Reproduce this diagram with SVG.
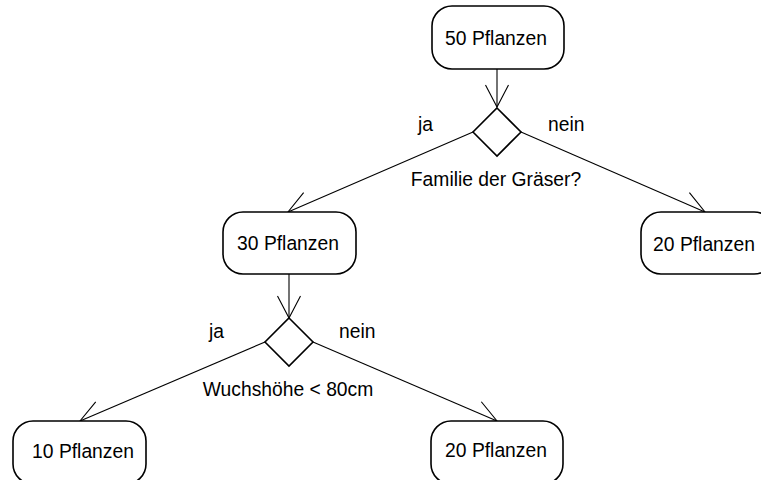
<svg xmlns="http://www.w3.org/2000/svg" width="761" height="480" viewBox="0 0 761 480">
  <style>
    .box { fill: #ffffff; stroke: #000000; stroke-width: 1.6; }
    .dec { fill: #ffffff; stroke: #000000; stroke-width: 1.6; }
    .edge { fill: none; stroke: #000000; stroke-width: 1.1; }
    text { font-family: "Liberation Sans", Arial, sans-serif; font-size: 19.3px; fill: #000000; }
    .c { text-anchor: middle; }
  </style>
  <defs>
    <marker id="open" markerUnits="userSpaceOnUse" markerWidth="30" markerHeight="30" viewBox="-25 -15 30 30" refX="0" refY="0" orient="auto">
      <path d="M-22,-11.5 L0,0 L-22,11.5" fill="none" stroke="#000000" stroke-width="1.1"/>
    </marker>
  </defs>

  <g id="connectors">
    <line class="edge" x1="497" y1="69" x2="497" y2="107" marker-end="url(#open)"/>
    <line class="edge" x1="473" y1="132" x2="288" y2="212" marker-end="url(#open)"/>
    <line class="edge" x1="521" y1="132" x2="705" y2="212" marker-end="url(#open)"/>
    <line class="edge" x1="289" y1="274" x2="289" y2="318" marker-end="url(#open)"/>
    <line class="edge" x1="265" y1="342" x2="80" y2="421" marker-end="url(#open)"/>
    <line class="edge" x1="313" y1="342" x2="497" y2="421" marker-end="url(#open)"/>
    <text x="418" y="131">ja</text>
    <text x="548" y="131">nein</text>
    <text x="209" y="338">ja</text>
    <text x="339" y="338">nein</text>
  </g>

  <g id="n50">
    <rect class="box" x="432" y="6" width="132" height="63" rx="20" ry="20"/>
    <text class="c" x="496" y="45">50 Pflanzen</text>
  </g>

  <g id="d1">
    <polygon class="dec" points="497,108 521,132 497,156 473,132"/>
    <text class="c" x="496" y="186">Familie der Gräser?</text>
  </g>

  <g id="n30">
    <rect class="box" x="223" y="212" width="133" height="62" rx="20" ry="20"/>
    <text class="c" x="288" y="250">30 Pflanzen</text>
  </g>

  <g id="n20a">
    <rect class="box" x="641" y="212" width="133" height="62" rx="20" ry="20"/>
    <text class="c" x="704" y="251">20 Pflanzen</text>
  </g>

  <g id="d2">
    <polygon class="dec" points="289,318 313,342 289,366 265,342"/>
    <text class="c" x="288" y="396">Wuchshöhe &lt; 80cm</text>
  </g>

  <g id="n10">
    <rect class="box" x="13" y="421" width="133" height="63" rx="20" ry="20"/>
    <text class="c" x="83" y="458">10 Pflanzen</text>
  </g>

  <g id="n20b">
    <rect class="box" x="431" y="421" width="132" height="63" rx="20" ry="20"/>
    <text class="c" x="496" y="457">20 Pflanzen</text>
  </g>
</svg>
